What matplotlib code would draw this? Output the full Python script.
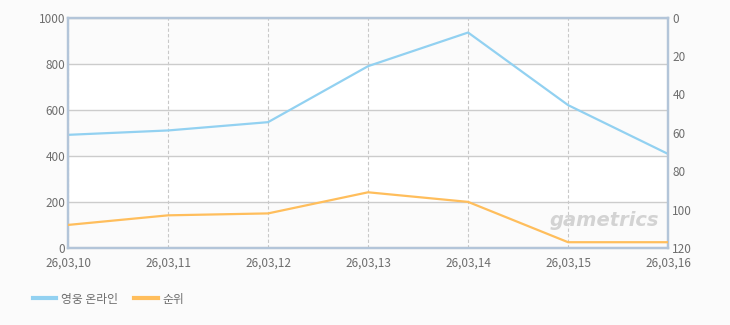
import matplotlib.pyplot as plt
from matplotlib.lines import Line2D

plt.rcParams['font.family'] = ['Noto Sans CJK KR', 'DejaVu Sans']

# 데이터
dates = ['26,03,10', '26,03,11', '26,03,12', '26,03,13', '26,03,14', '26,03,15', '26,03,16']
users = [491, 510, 546, 789, 935, 620, 408]
rank = [108, 103, 102, 91, 96, 117, 117]

blue = '#92d1f1'
orange = '#ffbe5c'
txt = '#6e6e6e'

fig = plt.figure(figsize=(7.3, 3.25), dpi=100, facecolor='#fbfbfb')
ax = fig.add_axes([0.0932, 0.237, 0.822, 0.709])
ax.set_facecolor('white')
x = list(range(len(dates)))

# 배경 줄무늬
for lo in (0, 400, 800):
    ax.axhspan(lo, lo + 200, color='#fbfbfb', zorder=0, lw=0)

ax.set_xlim(0, len(dates) - 1)
ax.set_ylim(0, 1000)
ax.set_yticks(range(0, 1001, 200))
ax.set_xticks(x)
ax.set_xticklabels(dates)
ax.grid(axis='y', color='#cccccc', lw=1, zorder=1)
ax.grid(axis='x', color='#c8c8c8', lw=0.8, ls=(0, (3, 2)), zorder=1)
ax.tick_params(axis='y', length=0, labelsize=8.5, colors=txt, pad=2)
ax.tick_params(axis='x', length=0, labelsize=8.5, colors=txt, pad=6)

ax.plot(x, users, color=blue, lw=1.6, zorder=3)

ax2 = ax.twinx()
ax2.set_ylim(120, 0)
ax2.set_yticks(range(0, 121, 20))
ax2.tick_params(length=0, labelsize=8.5, colors=txt, pad=3)
ax2.plot(x, rank, color=orange, lw=1.6, zorder=3)

for a in (ax, ax2):
    for s in a.spines.values():
        s.set_color('#b3c5d9')
        s.set_linewidth(1.6)
ax.spines['bottom'].set_color('#a9b8c8')

fig.text(0.903, 0.32, 'gametrics', ha='right', va='center', fontsize=14,
         fontstyle='italic', fontweight='bold', color='#d3d3d3', family='DejaVu Sans')

handles = [Line2D([], [], color=blue, lw=3), Line2D([], [], color=orange, lw=3)]
fig.legend(handles, ['영웅 온라인', '순위'], loc='center left', bbox_to_anchor=(0.03, 0.08),
           ncol=2, frameon=False, fontsize=8.5, labelcolor=txt, handlelength=2.0,
           handletextpad=0.4, columnspacing=1.4)

fig.savefig('out.png', dpi=100, facecolor=fig.get_facecolor())
